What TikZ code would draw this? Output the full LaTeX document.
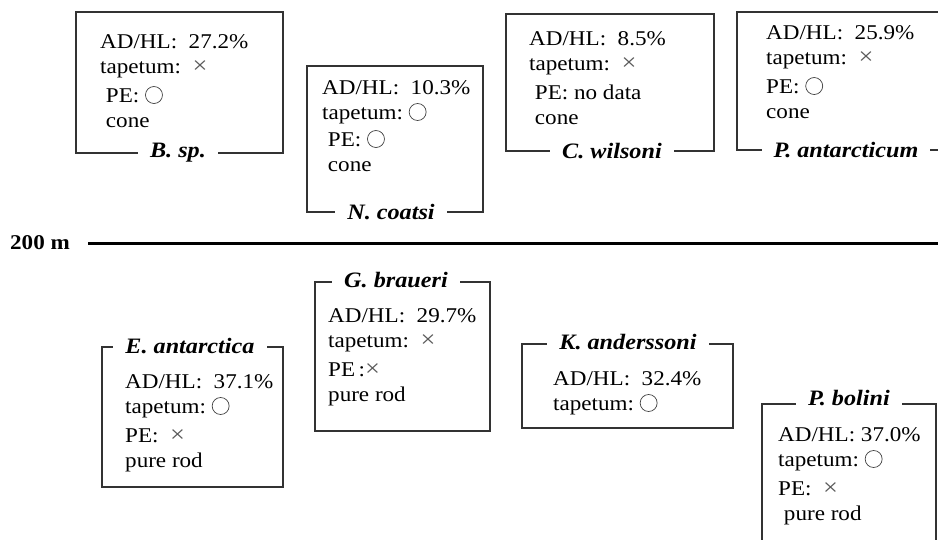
\documentclass[tikz,border=0pt]{standalone}
\usepackage{fontspec}
\setmainfont[FakeStretch=1.1]{Liberation Serif}
\usepackage{tikz}

\newcommand{\yes}{\tikz[baseline={(0pt,-7pt)}]\draw[black!75, line width=0.7pt] (0pt,0pt) circle (8.5pt);}
\newcommand{\no}{{\color{black!65}\fontsize{24}{24}\selectfont×}}

\begin{document}
\begin{tikzpicture}[x=1pt, y=-1pt,
frame/.style={draw=black!80, line width=1.2pt},
info/.style={anchor=base west, align=left, inner sep=0pt, font=\fontsize{21}{25}\selectfont},
taxon/.style={fill=white, inner xsep=12pt, inner ysep=1pt, font=\fontsize{22}{24}\selectfont\bfseries\itshape}]
\useasboundingbox (0,0) rectangle (938,539);
\clip (0,0) rectangle (938,539);

\draw[frame] (76,12) rectangle (283,153);
\node[info] (bsp) at (100,127) {AD/HL:~~27.2\%\\tapetum:~~\no\\[4pt]~PE:~\yes\\~cone};
\node[taxon] (bsp-name) at (178,153) {B. sp.};

\draw[frame] (307,66) rectangle (483,212);
\node[info] (coatsi) at (322,171) {AD/HL:~~10.3\%\\tapetum:~\yes\\[2pt]~PE:~\yes\\~cone};
\node[taxon] (coatsi-name) at (391,212) {N. coatsi};

\draw[frame] (506,14) rectangle (714,151);
\node[info] (wilsoni) at (529,124) {AD/HL:~~8.5\%\\tapetum:~~\no\\[4pt]~PE: no data\\~cone};
\node[taxon] (wilsoni-name) at (612,151) {C. wilsoni};

\draw[frame] (737,12) rectangle (960,150);
\node[info] (antarcticum) at (766,118) {AD/HL:~~25.9\%\\tapetum:~~\no\\[4pt]PE:~\yes\\cone};
\node[taxon] (antarcticum-name) at (846,150) {P. antarcticum};

\node[font=\fontsize{21}{22}\selectfont\bfseries, inner sep=0pt] (depth) at (40,243) {200~m};
\coordinate (end) at (938,243);
\draw[line width=3pt] (depth.east) ++(18pt,0pt) -- (end);

\draw[frame] (102,347) rectangle (283,487);
\node[info] (eantarctica) at (125,467) {AD/HL:~~37.1\%\\tapetum:~\yes\\[4pt]PE:~~\no\\pure rod};
\node[taxon] (eantarctica-name) at (190,346) {E. antarctica};

\draw[frame] (315,282) rectangle (490,431);
\node[info] (braueri) at (328,401) {AD/HL:~~29.7\%\\tapetum:~~\no\\[4pt]PE\,:\no\\pure rod};
\node[taxon] (braueri-name) at (396,280) {G. braueri};

\draw[frame] (522,344) rectangle (733,428);
\node[info] (anderssoni) at (553,410) {AD/HL:~~32.4\%\\tapetum:~\yes};
\node[taxon] (anderssoni-name) at (628,342) {K. anderssoni};

\draw[frame] (762,404) rectangle (936,570);
\node[info] (bolini) at (778,520) {AD/HL:~37.0\%\\tapetum:~\yes\\[4pt]PE:~~\no\\~pure rod};
\node[taxon] (bolini-name) at (849,398) {P. bolini};
\end{tikzpicture}
\end{document}
